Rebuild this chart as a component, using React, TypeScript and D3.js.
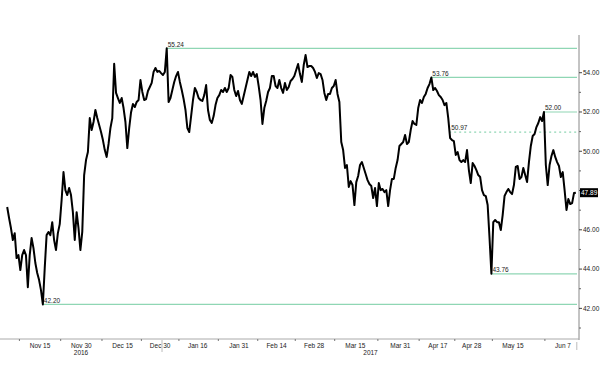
import React from 'react';
import * as d3 from 'd3';

const W = 600;
const H = 377;

// trading calendar (weekdays, minus exchange closures)
const calendarStart = '2016-11-01';
const calendarEnd = '2017-06-07';
const holidays = ['2016-12-26', '2017-01-02', '2017-04-14'];
const seriesStartDate = '2016-11-02';
const samplesPerDay = 2;

// price series, two readings per trading day
const price = [
  47.16, 46.60, 46.09, 45.48, 45.83, 44.56, 44.71, 43.95, 44.71, 44.97,
  44.71, 43.08, 44.71, 45.58, 45.07, 44.31, 43.80, 43.44, 42.93, 42.20,
  44.05, 45.73, 45.89, 45.73, 46.39, 45.48, 44.97, 45.83, 46.29, 47.52,
  48.94, 48.02, 47.77, 48.13, 47.77, 46.90, 45.48, 46.90, 46.09, 44.97,
  45.89, 48.79, 49.55, 49.96, 51.69, 51.08, 51.49, 52.10, 51.69, 51.34,
  50.98, 50.57, 50.06, 49.71, 50.37, 51.18, 51.69, 54.45, 52.97, 52.71,
  52.46, 52.71, 52.20, 51.49, 50.16, 51.18, 51.99, 52.41, 52.25, 52.51,
  52.61, 53.63, 53.02, 52.61, 52.66, 53.07, 53.27, 53.48, 54.04, 54.24,
  54.04, 54.09, 53.98, 53.88, 54.04, 55.24, 52.51, 52.71, 53.12, 53.53,
  53.83, 54.04, 53.53, 53.12, 52.66, 52.10, 51.18, 50.98, 51.79, 52.61,
  53.22, 53.02, 52.71, 52.61, 52.56, 52.86, 53.37, 52.10, 51.59, 51.44,
  51.79, 52.35, 52.71, 52.86, 53.12, 53.02, 53.22, 53.02, 53.22, 53.88,
  53.78, 53.12, 52.81, 53.07, 52.61, 52.41, 52.81, 53.22, 53.63, 54.04,
  53.83, 54.04, 53.78, 53.93, 53.32, 52.61, 51.39, 52.20, 52.56, 53.02,
  53.22, 53.83, 53.83, 53.32, 53.22, 53.63, 53.22, 52.97, 53.48, 53.12,
  53.27, 53.58, 53.68, 53.83, 54.14, 54.44, 53.93, 53.53, 54.39, 54.90,
  54.29, 54.34, 54.34, 54.24, 54.04, 53.73, 53.98, 53.93, 53.63, 52.97,
  52.61, 52.92, 52.92, 53.22, 53.32, 53.63, 52.92, 52.51, 50.47, 50.06,
  49.15, 49.30, 48.18, 48.48, 48.28, 47.26, 48.43, 48.74, 49.30, 49.45,
  49.15, 48.84, 48.53, 48.33, 48.23, 47.62, 48.13, 47.21, 48.38, 48.02,
  48.08, 47.92, 48.02, 47.21, 48.02, 48.59, 48.59, 49.15, 49.55, 50.27,
  50.37, 50.47, 50.83, 50.37, 50.47, 51.08, 51.54, 51.39, 51.34, 52.20,
  52.61, 52.46, 52.76, 52.92, 53.22, 53.42, 53.76, 53.12, 53.22, 53.07,
  52.86, 52.76, 52.61, 52.35, 52.46, 51.69, 50.67, 50.57, 50.52, 49.81,
  49.96, 49.55, 49.45, 49.55, 49.45, 50.06, 49.04, 48.38, 49.40, 49.25,
  49.04, 48.79, 48.69, 48.02, 47.77, 47.72, 47.26, 45.58, 43.76, 46.39,
  46.50, 46.39, 46.39, 45.99, 46.75, 47.72, 47.92, 48.08, 47.92, 47.82,
  48.28, 49.20, 49.25, 48.59, 48.69, 49.15, 48.79, 48.43, 49.45, 50.27,
  50.78, 50.88, 51.23, 51.44, 51.74, 51.54, 52.00, 49.30, 48.28, 49.30,
  49.76, 50.06, 49.71, 49.45, 49.25, 48.69, 48.94, 48.02, 47.01, 47.57,
  47.31, 47.36, 47.87, 47.89,
];

const tickDates = [
  '2016-11-15', '2016-11-30', '2016-12-15', '2016-12-30', '2017-01-16', '2017-01-31', '2017-02-14',
  '2017-02-28', '2017-03-15', '2017-03-31', '2017-04-17', '2017-04-28', '2017-05-15', '2017-06-07',
];
const tickLabels = [
  'Nov 15', 'Nov 30', 'Dec 15', 'Dec 30', 'Jan 16', 'Jan 31', 'Feb 14',
  'Feb 28', 'Mar 15', 'Mar 31', 'Apr 17', 'Apr 28', 'May 15', 'Jun 7',
];
const yearLabels = ['2016', '2017'];
const yMajor = [42, 44, 46, 48, 50, 52, 54];
const yMinor = [41, 43, 45, 47, 49, 51, 53];
const extremeMarks = [55.24, 42.2, 53.76, 43.76, 52.0];
const refLevel = 50.97;
const refDate = '2017-04-20';
const lastPrice = 47.89;

const fmt = d3.format('.2f');

function buildCalendar(): string[] {
  const parse = d3.utcParse('%Y-%m-%d');
  const f = d3.utcFormat('%Y-%m-%d');
  const start = parse(calendarStart) as Date;
  const end = parse(calendarEnd) as Date;
  return d3.utcDay
    .range(start, d3.utcDay.offset(end, 1))
    .filter((d) => d.getUTCDay() !== 0 && d.getUTCDay() !== 6 && !holidays.includes(f(d)))
    .map(f);
}

export default function App() {
  const days = buildCalendar();
  const idx = (s: string) => days.indexOf(s);

  const plotRight = 579;
  const plotTop = 35;
  const plotBottom = 339;
  const lineEnd = 577;

  const x = d3.scaleLinear().domain([0, days.length - 1]).range([2.5, 576.8]);
  const y = d3.scaleLinear().domain([40.44, 55.92]).range([plotBottom, plotTop]);

  const startIdx = idx(seriesStartDate);
  const sx = (k: number) => x(startIdx + (k + 0.5) / samplesPerDay);

  const line = d3
    .line<number>()
    .x((_, k) => sx(k))
    .y((v) => y(v));

  const tickIdx = tickDates.map(idx);
  const minorIdx = [tickIdx[0] - (tickIdx[1] - tickIdx[0]) / 2];
  for (let i = 0; i < tickIdx.length - 1; i++) minorIdx.push((tickIdx[i] + tickIdx[i + 1]) / 2);

  const first2017 = days.findIndex((d) => d.startsWith('2017'));
  const yearX = x(first2017 - 0.5);
  const yearCenters = [yearX / 2, (yearX + plotRight) / 2];

  const font = "'Liberation Sans', Arial, sans-serif";
  const green = '#8fd6b4';
  const fs = 6.5;

  const refX = x(idx(refDate));

  return (
    <svg
      width={W}
      height={H}
      style={{ position: 'fixed', left: 0, top: 0, background: '#fff' }}
      fontFamily={font}
    >
      {/* annotation lines */}
      {extremeMarks.map((v) => {
        const k = price.indexOf(v);
        const px = sx(k);
        const py = y(v);
        return (
          <g key={v}>
            <line x1={px} x2={lineEnd} y1={py} y2={py} stroke={green} strokeWidth={1.2} />
            <text x={px + 1} y={py - 1.8} fontSize={fs} fill="#222">
              {fmt(v)}
            </text>
          </g>
        );
      })}
      <line
        x1={refX}
        x2={lineEnd}
        y1={y(refLevel)}
        y2={y(refLevel)}
        stroke={green}
        strokeWidth={1.2}
        strokeDasharray="2,3"
      />
      <text x={refX + 2} y={y(refLevel) - 1.8} fontSize={fs} fill="#222">
        {fmt(refLevel)}
      </text>

      {/* price line */}
      <path d={line(price) || ''} fill="none" stroke="#000" strokeWidth={2} strokeLinejoin="round" />

      {/* right axis */}
      <line x1={plotRight} x2={plotRight} y1={plotTop} y2={plotBottom + 1} stroke="#888" strokeWidth={1} />
      {yMinor.map((v) => (
        <line key={'m' + v} x1={plotRight} x2={plotRight + 2} y1={y(v)} y2={y(v)} stroke="#666" />
      ))}
      {yMajor.map((v) => (
        <g key={'M' + v}>
          <line x1={plotRight} x2={plotRight + 3} y1={y(v)} y2={y(v)} stroke="#444" />
          {Math.abs(v - lastPrice) > 0.6 && (
            <text x={plotRight + 4} y={y(v)} dy="0.35em" fontSize={fs} fill="#222">
              {fmt(v)}
            </text>
          )}
        </g>
      ))}
      <rect x={plotRight + 1} y={y(lastPrice) - 4.5} width={18} height={9} fill="#000" />
      <text x={plotRight + 2} y={y(lastPrice)} dy="0.35em" fontSize={fs} fill="#fff">
        {fmt(lastPrice)}
      </text>

      {/* bottom axis */}
      <line x1={0} x2={plotRight} y1={plotBottom} y2={plotBottom} stroke="#aaa" strokeWidth={1} />
      {minorIdx.map((d, i) => (
        <line key={'t' + i} x1={x(d)} x2={x(d)} y1={plotBottom} y2={plotBottom + 2} stroke="#777" />
      ))}
      {tickLabels.map((lab, i) => (
        <text
          key={lab}
          x={Math.min(x(tickIdx[i]), plotRight - 16)}
          y={plotBottom + 9}
          fontSize={fs}
          textAnchor="middle"
          fill="#222"
        >
          {lab}
        </text>
      ))}
      <line x1={yearX} x2={yearX} y1={plotBottom + 1} y2={plotBottom + 13} stroke="#bbb" />
      <line x1={x(days.length - 1)} x2={x(days.length - 1)} y1={plotBottom + 3} y2={plotBottom + 11} stroke="#bbb" />
      {yearLabels.map((lab, i) => (
        <text key={lab} x={yearCenters[i]} y={plotBottom + 16} fontSize={fs} textAnchor="middle" fill="#222">
          {lab}
        </text>
      ))}
    </svg>
  );
}
